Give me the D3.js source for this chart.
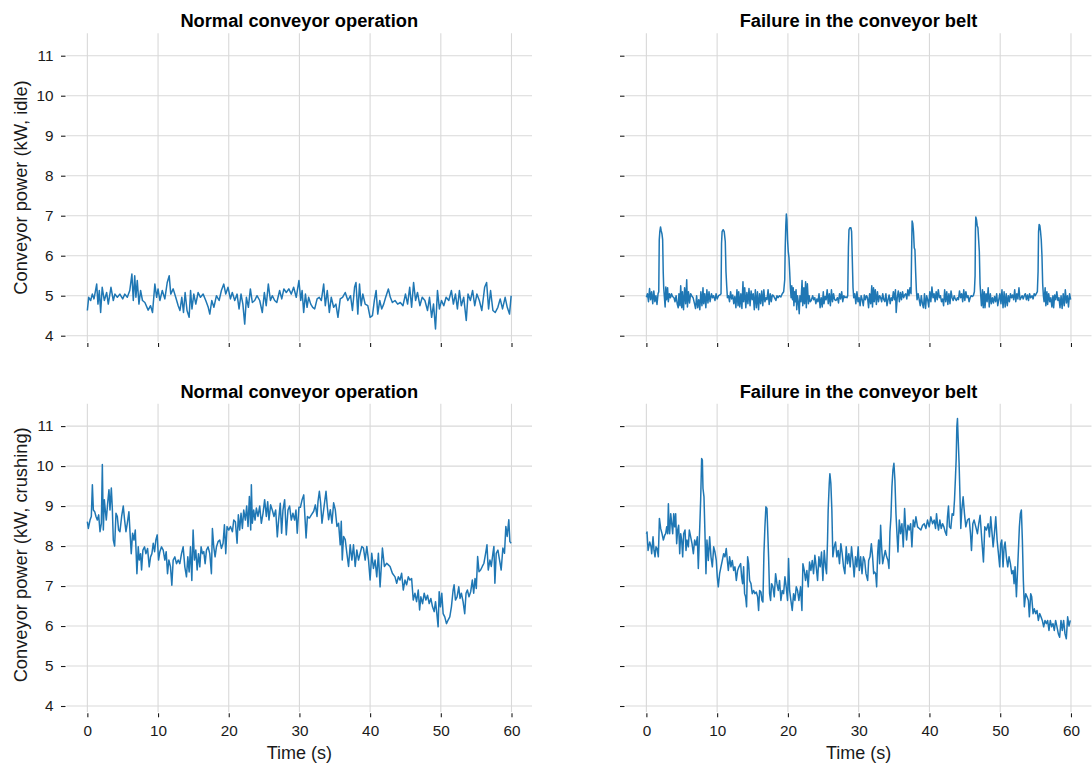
<!DOCTYPE html>
<html>
<head>
<meta charset="utf-8">
<script src="https://cdn.jsdelivr.net/npm/d3@7"></script>
<style>
    body { margin: 0; background: #fff; }
    svg { display: block; font-family: "Liberation Sans", Arial, sans-serif; }
</style>
</head>
<body>
<svg id="chart" width="1092" height="764"></svg>
<script>
// ticks and labels
var timeTicks = [0, 10, 20, 30, 40, 50, 60];
var powerTicks = [4, 5, 6, 7, 8, 9, 10, 11];
var colTitles = ["Normal conveyor operation", "Failure in the conveyor belt"];
var rowLabels = ["Conveyor power (kW, idle)", "Conveyor power (kW, crushing)"];
var timeLabel = "Time (s)";

// [time (s), power (kW)]
var idleNormal = [[0,4.63],[0.19,4.96],[0.47,4.88],[0.7,5.04],[0.94,4.92],[1.32,5.29],[1.5,4.79],[1.69,5.13],[1.88,4.58],[2.1,5.21],[2.4,4.88],[2.73,5.08],[2.96,4.79],[3.34,5.21],[3.67,4.88],[3.9,5.04],[4.24,4.96],[4.6,5.04],[5.0,4.92],[5.3,5.04],[5.65,4.96],[6.0,5.13],[6.3,5.54],[6.5,4.88],[6.7,5.5],[6.87,4.96],[7.06,5.38],[7.3,4.79],[7.53,5.13],[7.8,4.88],[8.14,4.83],[8.6,4.64],[8.94,4.75],[9.22,4.58],[9.55,5.29],[9.8,4.96],[10.0,5.17],[10.26,4.88],[10.6,5.13],[10.96,4.92],[11.3,5.33],[11.58,5.5],[11.8,5.04],[12.14,5.17],[12.5,4.96],[12.85,4.75],[13.1,4.63],[13.36,4.96],[13.6,4.58],[13.83,5.08],[14.1,4.63],[14.4,4.46],[14.6,5.13],[14.8,4.67],[15.06,5.04],[15.34,4.79],[15.67,5.08],[16.0,4.96],[16.38,5.04],[16.75,4.88],[17.1,4.71],[17.32,4.54],[17.6,4.88],[17.9,4.71],[18.26,5.0],[18.64,4.88],[18.96,5.13],[19.3,5.29],[19.58,5.04],[19.9,5.21],[20.24,4.92],[20.5,5.08],[20.85,4.88],[21.18,5.04],[21.46,4.67],[21.74,5.04],[22.0,4.79],[22.26,4.29],[22.5,4.96],[22.78,4.71],[23.06,5.17],[23.34,4.83],[23.67,4.88],[24.0,5.0],[24.38,4.88],[24.75,4.58],[25.04,5.08],[25.3,4.75],[25.6,5.29],[25.9,4.88],[26.16,5.0],[26.5,4.88],[26.8,4.83],[27.2,5.13],[27.5,4.92],[27.8,5.17],[28.14,5.08],[28.5,5.17],[28.85,5.04],[29.18,5.21],[29.55,4.96],[29.93,5.38],[30.19,4.88],[30.38,5.13],[30.6,4.58],[30.85,5.04],[31.08,4.71],[31.3,4.96],[31.6,4.79],[31.88,4.71],[32.16,4.67],[32.5,4.92],[32.8,4.96],[33.1,4.88],[33.43,5.29],[33.66,4.75],[33.94,5.13],[34.23,4.58],[34.5,4.96],[34.84,4.71],[35.16,4.79],[35.45,4.46],[35.77,4.92],[36.1,4.96],[36.48,5.08],[36.85,4.88],[37.23,5.0],[37.5,4.63],[37.8,5.21],[38.0,5.33],[38.26,4.54],[38.5,5.29],[38.73,4.75],[38.97,5.04],[39.3,4.79],[39.67,4.75],[40.0,4.46],[40.33,4.5],[40.6,4.88],[40.85,5.13],[41.08,4.54],[41.36,4.88],[41.64,4.67],[41.92,4.79],[42.2,4.96],[42.58,5.17],[42.86,4.96],[43.15,4.83],[43.52,4.88],[43.9,4.79],[44.27,4.83],[44.65,4.75],[45.0,5.04],[45.3,4.79],[45.6,5.21],[45.87,4.71],[46.15,5.33],[46.43,4.88],[46.7,5.08],[47.04,4.75],[47.37,4.96],[47.75,4.88],[48.12,4.63],[48.4,4.96],[48.7,4.46],[48.97,4.79],[49.25,4.17],[49.53,5.13],[49.8,4.67],[50.1,4.88],[50.42,4.75],[50.75,4.96],[51.13,4.88],[51.5,5.13],[51.78,4.79],[52.07,5.04],[52.35,4.67],[52.63,5.13],[52.9,4.75],[53.24,4.96],[53.6,4.38],[53.85,5.04],[54.18,4.88],[54.5,5.13],[54.8,4.75],[55.1,5.04],[55.45,4.88],[55.8,4.63],[56.2,5.21],[56.48,5.33],[56.76,4.67],[57.04,5.13],[57.37,4.63],[57.7,4.58],[58.07,4.71],[58.4,4.92],[58.73,4.67],[59.1,4.96],[59.4,4.71],[59.72,4.54],[59.95,5.0]];

var idleFailure = [[0,4.96],[0.15,5.05],[0.3,4.85],[0.45,5.18],[0.6,4.9],[0.75,5.1],[0.9,4.8],[1.05,5.12],[1.2,4.85],[1.35,5.0],[1.5,4.78],[1.65,5.05],[1.75,5.1],[1.82,6.4],[1.9,6.6],[2.0,6.72],[2.1,6.62],[2.2,6.55],[2.3,6.4],[2.38,5.6],[2.45,5.2],[2.55,4.95],[2.65,4.72],[2.75,5.22],[2.85,4.9],[3.0,5.2],[3.1,4.85],[3.25,5.05],[3.4,4.95],[3.55,5.05],[3.7,4.98],[3.9,4.95],[4.05,4.85],[4.2,5.0],[4.35,4.8],[4.5,4.7],[4.6,5.05],[4.75,4.75],[4.85,5.25],[5.0,4.7],[5.1,5.1],[5.25,4.65],[5.4,5.2],[5.55,4.8],[5.7,5.4],[5.8,4.72],[5.95,5.1],[6.1,4.82],[6.25,5.05],[6.4,5.0],[6.6,4.95],[6.8,4.8],[6.95,4.68],[7.1,5.0],[7.25,4.7],[7.4,4.9],[7.55,4.65],[7.7,5.1],[7.85,4.75],[8.0,5.2],[8.1,4.8],[8.25,5.05],[8.4,4.7],[8.55,5.15],[8.7,4.82],[8.85,5.1],[9.0,4.85],[9.2,5.05],[9.35,4.95],[9.5,5.0],[9.7,4.88],[9.85,5.05],[10.0,4.92],[10.2,5.0],[10.4,5.02],[10.55,5.05],[10.62,6.3],[10.7,6.6],[10.85,6.65],[11.0,6.6],[11.15,6.35],[11.25,5.6],[11.35,5.25],[11.45,4.95],[11.6,5.0],[11.75,4.85],[11.9,5.1],[12.05,4.92],[12.2,5.02],[12.35,4.8],[12.5,4.98],[12.65,4.7],[12.8,5.15],[12.95,4.75],[13.05,5.1],[13.2,4.72],[13.35,5.05],[13.5,4.68],[13.65,5.35],[13.75,4.85],[13.9,5.2],[14.05,4.7],[14.2,5.08],[14.35,4.8],[14.5,5.18],[14.65,4.75],[14.8,5.12],[14.95,4.9],[15.1,5.05],[15.25,4.65],[15.4,5.15],[15.55,4.7],[15.7,5.1],[15.85,4.65],[16.0,5.05],[16.15,4.8],[16.3,5.12],[16.45,4.75],[16.6,5.15],[16.75,4.85],[16.9,4.95],[17.05,4.9],[17.2,5.15],[17.35,4.78],[17.5,5.05],[17.65,4.85],[17.8,5.02],[17.95,5.0],[18.1,4.95],[18.3,4.88],[18.45,5.0],[18.6,4.95],[18.8,5.0],[19.0,4.97],[19.2,5.05],[19.4,5.1],[19.55,5.4],[19.62,6.2],[19.7,6.75],[19.78,7.04],[19.86,6.9],[19.95,6.4],[20.05,6.1],[20.15,5.95],[20.25,5.6],[20.35,5.2],[20.45,4.95],[20.55,5.25],[20.65,4.9],[20.75,5.2],[20.85,4.75],[20.95,5.1],[21.05,4.85],[21.15,5.15],[21.25,4.65],[21.35,5.0],[21.5,4.8],[21.6,4.55],[21.7,5.0],[21.85,4.85],[22.0,5.38],[22.1,4.75],[22.25,5.2],[22.35,4.8],[22.5,5.35],[22.6,4.7],[22.75,5.3],[22.9,4.8],[23.0,5.0],[23.15,4.85],[23.3,4.88],[23.5,5.0],[23.65,4.9],[23.8,4.95],[23.95,4.8],[24.1,4.92],[24.25,4.85],[24.4,5.05],[24.55,4.7],[24.7,4.95],[24.85,4.72],[25.0,5.1],[25.1,4.8],[25.25,4.98],[25.4,4.9],[25.55,5.15],[25.7,4.8],[25.85,5.05],[26.0,4.75],[26.15,5.15],[26.3,4.85],[26.45,5.05],[26.6,4.9],[26.8,4.88],[27.0,4.95],[27.15,4.82],[27.3,5.05],[27.45,4.92],[27.6,5.1],[27.75,4.85],[27.9,5.0],[28.05,4.95],[28.2,4.97],[28.35,4.95],[28.45,5.0],[28.55,6.2],[28.63,6.65],[28.75,6.7],[28.9,6.7],[29.0,6.6],[29.1,5.9],[29.2,5.2],[29.3,4.95],[29.45,5.05],[29.6,4.8],[29.75,5.1],[29.9,4.85],[30.05,4.95],[30.2,4.75],[30.35,5.0],[30.5,4.9],[30.65,4.75],[30.8,5.02],[30.95,4.9],[31.1,5.0],[31.25,4.95],[31.4,4.7],[31.55,5.05],[31.7,4.8],[31.85,5.25],[31.95,4.72],[32.1,5.2],[32.2,4.85],[32.35,5.15],[32.5,4.78],[32.65,5.1],[32.8,4.85],[32.95,5.0],[33.1,4.95],[33.25,4.85],[33.4,5.05],[33.55,4.9],[33.7,4.85],[33.85,5.05],[34.0,4.75],[34.15,4.9],[34.3,5.02],[34.45,4.8],[34.6,4.95],[34.75,4.88],[34.9,5.1],[35.05,4.9],[35.2,5.15],[35.3,4.58],[35.45,4.95],[35.6,5.12],[35.75,4.85],[35.9,5.08],[36.05,4.9],[36.2,5.1],[36.35,4.95],[36.5,5.02],[36.65,5.05],[36.8,4.92],[36.95,5.15],[37.1,5.0],[37.25,5.2],[37.4,5.05],[37.48,6.1],[37.55,6.87],[37.65,6.8],[37.75,6.6],[37.85,6.2],[37.95,6.15],[38.05,5.6],[38.15,5.15],[38.25,4.9],[38.4,5.05],[38.55,4.9],[38.7,4.75],[38.85,5.0],[39.0,4.8],[39.15,4.7],[39.3,5.05],[39.45,4.68],[39.6,5.0],[39.75,4.9],[39.9,4.72],[40.05,5.1],[40.2,4.85],[40.35,5.22],[40.5,4.95],[40.65,5.05],[40.8,4.85],[40.95,5.1],[41.1,4.9],[41.25,5.15],[41.4,4.95],[41.55,5.0],[41.7,4.85],[41.85,4.92],[42.0,4.75],[42.15,5.15],[42.3,4.85],[42.45,5.1],[42.6,4.78],[42.75,5.05],[42.9,4.8],[43.05,5.12],[43.2,4.95],[43.35,4.88],[43.5,5.0],[43.65,4.92],[43.8,4.88],[43.95,4.95],[44.1,4.9],[44.25,5.12],[44.4,4.95],[44.55,5.05],[44.7,4.85],[44.85,5.15],[45.0,4.88],[45.15,5.1],[45.3,4.95],[45.45,5.0],[45.6,4.85],[45.75,4.95],[45.9,5.0],[46.05,4.98],[46.2,5.0],[46.35,5.1],[46.45,5.5],[46.5,6.6],[46.55,6.97],[46.65,6.9],[46.75,6.75],[46.85,6.7],[46.95,6.4],[47.05,6.1],[47.15,5.3],[47.25,5.0],[47.35,4.75],[47.5,5.15],[47.6,4.7],[47.75,5.1],[47.85,4.7],[48.0,5.05],[48.15,4.85],[48.3,5.2],[48.45,4.72],[48.6,5.05],[48.75,4.8],[48.9,4.95],[49.05,4.82],[49.2,4.98],[49.35,4.85],[49.5,5.05],[49.65,4.75],[49.8,4.9],[49.95,5.05],[50.1,4.8],[50.25,5.15],[50.4,4.7],[50.55,5.1],[50.7,4.72],[50.85,5.05],[51.0,4.75],[51.15,5.0],[51.3,4.85],[51.45,5.05],[51.6,4.95],[51.75,5.02],[51.9,4.9],[52.05,5.15],[52.2,4.85],[52.35,5.05],[52.5,4.92],[52.65,5.2],[52.8,4.9],[52.95,4.95],[53.1,5.0],[53.25,4.92],[53.4,5.0],[53.55,5.05],[53.7,4.9],[53.85,5.02],[54.0,4.88],[54.15,5.05],[54.3,4.95],[54.5,5.0],[54.65,4.92],[54.8,5.05],[54.95,5.0],[55.1,5.05],[55.25,5.1],[55.35,5.6],[55.42,6.6],[55.5,6.78],[55.6,6.75],[55.7,6.6],[55.8,6.4],[55.9,6.0],[56.0,5.3],[56.1,5.0],[56.2,4.85],[56.35,5.2],[56.45,4.75],[56.6,5.1],[56.7,4.78],[56.85,5.05],[57.0,4.85],[57.15,4.95],[57.3,4.72],[57.45,5.0],[57.55,4.7],[57.7,5.02],[57.85,4.9],[58.0,5.1],[58.15,4.88],[58.3,4.95],[58.45,4.7],[58.6,5.0],[58.75,4.68],[58.9,5.05],[59.05,4.75],[59.2,5.15],[59.35,4.82],[59.5,5.0],[59.65,4.72],[59.8,5.05],[59.95,4.9]];

var crushNormal = [[0,8.61],[0.14,8.44],[0.38,8.65],[0.56,8.74],[0.71,9.53],[0.85,8.9],[1.04,8.86],[1.22,8.74],[1.41,8.65],[1.6,8.78],[1.79,8.36],[1.98,8.57],[2.12,10.04],[2.26,8.4],[2.4,9.16],[2.54,8.9],[2.68,8.65],[2.87,9.07],[3.06,9.41],[3.2,8.9],[3.39,9.45],[3.53,8.95],[3.67,8.15],[3.86,8.0],[4.05,8.82],[4.24,8.74],[4.42,8.4],[4.61,8.36],[4.85,8.74],[5.08,9.0],[5.27,8.65],[5.46,8.36],[5.65,8.57],[5.88,8.86],[6.07,8.23],[6.21,7.81],[6.4,8.32],[6.59,8.15],[6.78,8.4],[7.01,7.31],[7.2,7.98],[7.34,7.65],[7.53,7.81],[7.67,7.4],[7.86,7.9],[8.09,7.98],[8.28,7.81],[8.52,7.94],[8.75,7.48],[8.94,7.73],[9.13,7.81],[9.32,8.07],[9.51,7.86],[9.69,8.15],[9.88,8.28],[10.07,7.65],[10.26,7.86],[10.49,7.98],[10.73,7.9],[10.96,7.65],[11.15,7.86],[11.34,7.31],[11.53,7.65],[11.76,7.48],[11.95,7.02],[12.14,7.65],[12.38,7.73],[12.61,7.56],[12.85,7.65],[13.08,7.56],[13.32,7.81],[13.55,7.98],[13.79,7.48],[14.02,7.23],[14.21,7.73],[14.4,7.35],[14.59,7.98],[14.78,7.14],[14.96,8.4],[15.15,7.65],[15.34,7.9],[15.53,7.4],[15.72,7.81],[15.91,7.48],[16.09,7.98],[16.28,7.81],[16.47,7.86],[16.66,7.56],[16.85,7.9],[17.08,7.98],[17.32,7.81],[17.55,7.31],[17.69,8.44],[17.88,7.98],[18.07,7.73],[18.26,7.98],[18.49,8.11],[18.73,8.15],[18.96,7.94],[19.2,8.07],[19.39,8.53],[19.58,7.81],[19.76,8.49],[20.0,8.4],[20.24,8.49],[20.52,8.36],[20.71,8.65],[20.94,8.61],[21.18,8.07],[21.36,8.78],[21.55,8.4],[21.74,8.82],[21.93,8.44],[22.12,8.9],[22.35,8.65],[22.54,9.0],[22.73,8.49],[22.92,9.24],[23.11,8.4],[23.2,9.53],[23.34,8.57],[23.53,8.9],[23.72,8.65],[23.91,8.95],[24.14,8.74],[24.38,9.0],[24.61,8.57],[24.85,8.82],[25.08,9.16],[25.32,8.74],[25.51,9.11],[25.69,8.65],[25.93,9.03],[26.16,8.9],[26.4,8.74],[26.64,8.9],[26.87,8.23],[27.06,8.65],[27.29,9.07],[27.48,8.32],[27.67,8.9],[27.91,9.16],[28.14,8.28],[28.38,8.9],[28.61,9.0],[28.85,8.65],[29.08,8.82],[29.32,8.65],[29.51,8.9],[29.69,8.32],[29.93,8.97],[30.14,8.97],[30.38,9.16],[30.61,9.28],[30.8,8.66],[30.94,8.2],[31.13,8.74],[31.41,8.7],[31.69,8.78],[32.02,8.87],[32.25,9.03],[32.49,8.74],[32.63,9.12],[32.82,9.37],[33.0,9.08],[33.19,8.57],[33.43,8.91],[33.76,9.37],[33.94,8.99],[34.13,8.66],[34.37,8.91],[34.6,8.57],[34.84,9.08],[35.07,8.91],[35.31,8.49],[35.54,8.57],[35.77,8.03],[35.92,8.62],[36.06,7.65],[36.24,8.24],[36.48,8.16],[36.71,7.82],[36.95,7.49],[37.18,8.03],[37.42,7.65],[37.65,8.03],[37.89,7.49],[38.12,7.9],[38.36,7.65],[38.59,7.82],[38.83,7.99],[39.06,7.95],[39.3,7.65],[39.53,7.99],[39.77,7.65],[40.0,7.15],[40.23,7.82],[40.47,7.44],[40.7,7.65],[40.94,7.23],[41.17,7.82],[41.41,6.98],[41.74,7.95],[42.02,7.49],[42.35,7.57],[42.58,7.53],[42.82,7.49],[43.15,7.32],[43.52,7.23],[43.76,7.07],[43.99,7.23],[44.23,7.15],[44.46,7.32],[44.69,6.9],[44.93,7.15],[45.16,7.03],[45.4,7.23],[45.63,7.15],[45.87,7.19],[46.1,6.65],[46.34,6.82],[46.57,6.61],[46.81,6.9],[47.0,6.4],[47.18,6.73],[47.42,6.56],[47.65,6.82],[47.89,6.65],[48.12,6.77],[48.36,6.56],[48.59,6.69],[48.83,6.48],[49.06,6.36],[49.25,6.61],[49.44,6.31],[49.62,5.98],[49.77,6.86],[49.95,6.48],[50.14,6.82],[50.33,6.31],[50.56,6.23],[50.8,6.06],[51.03,6.15],[51.27,6.23],[51.5,6.48],[51.74,6.9],[51.88,7.03],[52.07,6.65],[52.3,6.73],[52.54,6.98],[52.72,6.69],[52.91,6.82],[53.15,6.61],[53.38,6.31],[53.57,6.82],[53.76,6.9],[53.99,6.73],[54.23,6.86],[54.46,7.15],[54.65,6.82],[54.84,7.19],[55.02,6.94],[55.21,7.74],[55.4,7.36],[55.63,7.4],[55.87,7.49],[56.1,7.57],[56.34,7.82],[56.53,8.03],[56.71,7.4],[56.95,7.65],[57.14,7.49],[57.37,7.82],[57.51,7.99],[57.65,7.07],[57.84,7.82],[58.08,7.9],[58.31,7.65],[58.54,7.4],[58.78,7.95],[59.01,7.82],[59.2,8.49],[59.39,8.24],[59.62,8.66],[59.77,8.11],[59.95,8.07]];

var crushFailure = [[0,8.31],[0.09,8.35],[0.24,7.89],[0.47,8.1],[0.66,7.98],[0.75,7.81],[0.94,8.23],[1.08,7.89],[1.22,7.73],[1.36,7.98],[1.51,7.94],[1.69,7.73],[1.84,8.69],[2.02,8.44],[2.21,8.31],[2.4,8.15],[2.59,8.27],[2.73,8.31],[2.87,8.48],[3.01,8.31],[3.11,9.06],[3.2,8.48],[3.29,8.31],[3.44,8.81],[3.58,8.56],[3.72,8.31],[3.86,8.81],[4.0,8.48],[4.14,8.81],[4.28,8.06],[4.42,8.4],[4.56,8.52],[4.71,7.81],[4.85,8.31],[4.99,8.15],[5.13,7.73],[5.27,8.31],[5.46,8.4],[5.6,7.89],[5.74,8.15],[5.93,7.98],[6.07,8.4],[6.26,8.23],[6.45,8.06],[6.64,7.81],[6.82,8.15],[7.01,8.02],[7.2,8.23],[7.34,7.44],[7.48,8.15],[7.67,9.15],[7.81,10.19],[7.91,10.15],[8.0,9.44],[8.14,9.23],[8.28,8.31],[8.42,7.31],[8.56,8.15],[8.75,7.64],[8.94,8.23],[9.13,7.73],[9.32,7.48],[9.51,7.98],[9.69,7.85],[9.88,7.64],[10.02,7.23],[10.16,6.98],[10.35,7.31],[10.54,7.48],[10.73,7.64],[10.92,7.81],[11.11,7.73],[11.29,7.94],[11.44,7.64],[11.58,7.39],[11.76,7.73],[11.95,7.48],[12.14,7.64],[12.33,7.39],[12.52,7.48],[12.71,7.14],[12.89,7.39],[13.08,7.48],[13.32,7.56],[13.46,7.23],[13.6,7.06],[13.74,7.48],[13.88,6.81],[14.02,6.73],[14.16,6.48],[14.31,7.73],[14.45,7.56],[14.59,7.14],[14.78,7.06],[14.96,6.81],[15.15,6.89],[15.34,6.81],[15.53,6.85],[15.72,6.73],[15.86,6.39],[16.0,6.89],[16.19,6.85],[16.33,6.64],[16.47,6.6],[16.61,7.81],[16.75,8.48],[16.89,8.98],[17.04,8.94],[17.13,8.48],[17.27,7.73],[17.41,6.81],[17.55,6.64],[17.69,7.06],[17.88,6.98],[18.07,6.73],[18.26,7.31],[18.45,7.06],[18.64,6.89],[18.82,7.14],[19.01,6.64],[19.2,6.89],[19.39,6.81],[19.58,7.23],[19.76,6.98],[19.95,6.64],[20.09,7.69],[20.24,6.89],[20.42,6.64],[20.61,6.39],[20.8,6.81],[20.99,6.64],[21.18,6.98],[21.36,6.89],[21.55,6.64],[21.79,6.98],[21.98,6.39],[22.12,7.56],[22.31,7.39],[22.49,7.14],[22.68,7.39],[22.87,6.98],[23.06,7.6],[23.25,7.39],[23.44,7.64],[23.62,7.31],[23.81,7.77],[24.0,7.48],[24.19,7.14],[24.38,7.73],[24.56,7.48],[24.75,7.85],[24.94,7.14],[25.13,7.89],[25.32,7.48],[25.46,7.31],[25.6,8.15],[25.69,8.9],[25.84,9.56],[25.93,9.81],[26.07,9.56],[26.21,8.9],[26.35,7.73],[26.54,7.98],[26.73,8.1],[26.92,7.73],[27.11,7.89],[27.29,7.56],[27.48,8.06],[27.67,7.81],[27.86,7.48],[28.05,7.31],[28.24,7.98],[28.42,7.56],[28.61,7.81],[28.8,7.48],[28.99,7.98],[29.18,7.64],[29.36,7.23],[29.55,7.73],[29.74,7.48],[29.93,7.98],[30.09,7.39],[30.28,7.73],[30.47,7.31],[30.66,7.73],[30.85,7.64],[31.03,7.31],[31.27,7.14],[31.41,7.64],[31.6,7.73],[31.79,8.06],[31.97,7.73],[32.12,7.31],[32.26,7.35],[32.4,7.31],[32.54,6.98],[32.68,7.81],[32.82,8.15],[32.96,7.56],[33.1,8.52],[33.24,7.98],[33.39,7.56],[33.57,7.73],[33.76,7.89],[33.95,7.73],[34.14,7.64],[34.28,7.44],[34.42,8.35],[34.56,8.73],[34.7,9.48],[34.84,9.9],[34.98,10.07],[35.12,9.65],[35.27,8.81],[35.41,8.31],[35.55,7.85],[35.74,8.65],[35.92,8.31],[36.11,8.56],[36.3,7.98],[36.49,8.94],[36.63,8.48],[36.77,8.15],[36.96,8.52],[37.15,8.4],[37.34,8.56],[37.52,7.98],[37.71,8.65],[37.9,8.48],[38.09,8.73],[38.32,8.48],[38.56,8.44],[38.79,8.4],[39.03,8.52],[39.26,8.56],[39.5,8.44],[39.73,8.65],[39.97,8.48],[40.2,8.73],[40.44,8.56],[40.67,8.65],[40.86,8.44],[41.0,8.81],[41.14,8.56],[41.28,8.4],[41.47,8.65],[41.66,8.44],[41.85,8.56],[42.04,8.48],[42.23,8.35],[42.41,8.27],[42.55,8.73],[42.69,9.0],[42.83,8.48],[43.02,8.44],[43.21,8.81],[43.4,8.77],[43.54,9.15],[43.68,9.73],[43.78,10.19],[43.87,10.98],[43.96,11.19],[44.05,10.73],[44.19,10.07],[44.33,9.15],[44.43,8.44],[44.57,8.9],[44.76,9.23],[44.95,8.81],[45.14,8.48],[45.37,8.65],[45.61,8.69],[45.8,8.31],[45.94,7.89],[46.13,8.56],[46.31,8.65],[46.55,8.48],[46.78,8.31],[46.97,8.56],[47.16,8.77],[47.4,8.15],[47.63,7.6],[47.82,8.48],[48.05,8.4],[48.29,8.56],[48.48,8.23],[48.66,8.73],[48.85,8.31],[49.0,7.98],[49.18,8.31],[49.37,8.73],[49.56,8.15],[49.75,7.81],[49.93,7.48],[50.07,8.06],[50.22,8.15],[50.4,7.48],[50.55,7.98],[50.69,8.1],[50.87,7.73],[51.06,7.48],[51.25,7.73],[51.44,7.56],[51.63,7.31],[51.82,7.39],[51.96,7.06],[52.1,7.48],[52.29,6.73],[52.43,7.31],[52.57,7.89],[52.71,8.48],[52.85,8.81],[52.99,8.9],[53.13,8.15],[53.27,7.14],[53.41,6.48],[53.6,6.81],[53.79,6.73],[53.98,6.64],[54.12,6.23],[54.31,6.81],[54.45,6.73],[54.64,6.31],[54.82,6.43],[55.01,6.31],[55.2,6.39],[55.39,6.14],[55.58,6.31],[55.76,6.23],[55.95,6.14],[56.14,5.98],[56.33,6.14],[56.52,6.06],[56.7,6.14],[56.89,5.89],[57.08,6.14],[57.27,5.98],[57.46,6.06],[57.64,5.89],[57.83,6.14],[58.02,5.98],[58.21,5.81],[58.4,5.72],[58.59,6.14],[58.77,5.89],[58.96,6.14],[59.15,5.81],[59.34,5.68],[59.53,6.23],[59.72,6.0],[59.9,6.14]];

var svg = d3.select("#chart");
var ink = "#1a1a1a";

// panel geometry (pixels)
var colRange = [[66.5, 532], [625.5, 1091.5]];
var rowRange = [[341.7, 33.3], [712, 403.7]];

var xScales = colRange.map(function (r) {
    return d3.scaleLinear().domain([-2.95, 62.9]).range(r);
});
var yScales = rowRange.map(function (r) {
    return d3.scaleLinear().domain([3.85, 11.56]).range(r);
});

var panels = [
    {row: 0, col: 0, data: idleNormal},
    {row: 0, col: 1, data: idleFailure},
    {row: 1, col: 0, data: crushNormal},
    {row: 1, col: 1, data: crushFailure}
];

panels.forEach(function (p) {
    var x = xScales[p.col];
    var y = yScales[p.row];
    var left = x.range()[0], right = x.range()[1];
    var bottom = y.range()[0], top = y.range()[1];
    var g = svg.append("g").attr("class", "panel");

    // grid
    g.selectAll("line.hgrid").data(powerTicks).join("line")
        .attr("class", "hgrid")
        .attr("x1", left).attr("x2", right)
        .attr("y1", function (d) { return y(d); })
        .attr("y2", function (d) { return y(d); })
        .attr("stroke", "#d9d9d9").attr("stroke-width", 1.1);
    g.selectAll("line.vgrid").data(timeTicks).join("line")
        .attr("class", "vgrid")
        .attr("y1", top).attr("y2", bottom)
        .attr("x1", function (d) { return x(d); })
        .attr("x2", function (d) { return x(d); })
        .attr("stroke", "#d9d9d9").attr("stroke-width", 1.1);

    // axes, ticks offset a little from the plot area
    var yAxis = d3.axisLeft(y).tickValues(powerTicks).tickSize(4.5).tickPadding(7.5)
        .tickFormat(p.col === 0 ? d3.format("d") : "");
    var ay = g.append("g").attr("transform", "translate(" + (left - 1) + ",0)").call(yAxis);

    var xAxis = d3.axisBottom(x).tickValues(timeTicks).tickSize(4).tickPadding(7.7)
        .tickFormat(p.row === 1 ? d3.format("d") : "");
    var ax = g.append("g").attr("transform", "translate(0," + (bottom + 1.3) + ")").call(xAxis);

    [ay, ax].forEach(function (a) {
        a.select(".domain").remove();
        a.selectAll(".tick line").attr("stroke", ink).attr("stroke-width", 1.1);
        a.selectAll(".tick text").attr("fill", ink)
            .style("font-size", "15.3px")
            .style("font-family", "'Liberation Sans', Arial, sans-serif");
    });

    // the series
    var line = d3.line()
        .x(function (d) { return x(d[0]); })
        .y(function (d) { return y(d[1]); });
    g.append("path")
        .datum(p.data)
        .attr("d", line)
        .attr("fill", "none")
        .attr("stroke", "#1f77b4")
        .attr("stroke-width", 1.5)
        .attr("stroke-linejoin", "round");

    // title
    g.append("text")
        .attr("x", (left + right) / 2)
        .attr("y", top - 6)
        .attr("text-anchor", "middle")
        .attr("font-weight", "bold")
        .attr("font-size", 18.3)
        .attr("fill", "#000")
        .text(colTitles[p.col]);

    if (p.col === 0) {
        g.append("text")
            .attr("transform", "translate(27," + ((top + bottom) / 2 - (p.row === 1 ? 3 : 0)) + ") rotate(-90)")
            .attr("text-anchor", "middle")
            .attr("font-size", 18.3)
            .attr("fill", ink)
            .text(rowLabels[p.row]);
    }
    if (p.row === 1) {
        g.append("text")
            .attr("x", x(30))
            .attr("y", 759)
            .attr("text-anchor", "middle")
            .attr("font-size", 18)
            .attr("fill", ink)
            .text(timeLabel);
    }
});
</script>
</body>
</html>
